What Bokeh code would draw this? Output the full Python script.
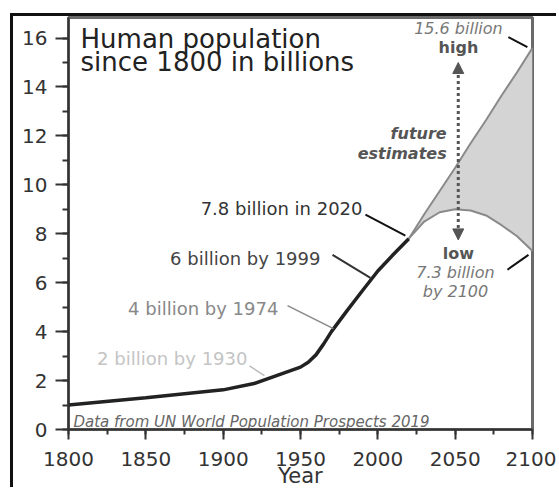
from bokeh.plotting import figure
from bokeh.models import Range1d, SingleIntervalTicker, Arrow, NormalHead
from bokeh.core.properties import value
from bokeh.embed import file_html
from bokeh.resources import INLINE

# ---- data ----
years_hist = [1800, 1850, 1900, 1920, 1950, 1955, 1960, 1965, 1970, 1980, 1990, 2000, 2010, 2020]
pop_hist = [1.0, 1.3, 1.62, 1.88, 2.55, 2.75, 3.05, 3.5, 4.0, 4.85, 5.67, 6.48, 7.15, 7.8]

years_future = [2020, 2030, 2040, 2050, 2060, 2070, 2080, 2090, 2100]
pop_high = [7.8, 8.8, 9.75, 10.7, 11.7, 12.65, 13.65, 14.6, 15.6]
pop_low = [7.8, 8.5, 8.88, 9.0, 8.95, 8.75, 8.35, 7.9, 7.3]

FONT = value("DejaVu Sans")

p = figure(width=546, height=474, output_backend="svg", toolbar_location=None,
           x_range=Range1d(1800, 2100), y_range=Range1d(0, 16.84),
           min_border_left=55, min_border_right=27, min_border_top=1, min_border_bottom=60)
p.styles = {"border-left": "3px solid #111", "border-top": "3px solid #111",
            "margin-left": "10px", "margin-top": "13px"}

p.xgrid.visible = False
p.ygrid.visible = False
p.outline_line_color = "#6a6a6a"
p.outline_line_width = 3
p.background_fill_color = "white"
p.border_fill_color = "white"

p.xaxis.ticker = SingleIntervalTicker(interval=50, num_minor_ticks=2)
p.yaxis.ticker = SingleIntervalTicker(interval=2, num_minor_ticks=2)
for ax in (p.xaxis, p.yaxis):
    ax.axis_line_color = "#333"
    ax.axis_line_width = 2
    ax.major_tick_line_color = "#333"
    ax.major_tick_line_width = 2
    ax.minor_tick_line_color = "#333"
    ax.minor_tick_line_width = 2
    ax.major_tick_in = 0
    ax.minor_tick_in = 0
    ax.major_label_text_font = "DejaVu Sans"
    ax.major_label_text_font_size = "20px"
    ax.major_label_text_color = "#333"
p.xaxis.major_tick_out = 10
p.xaxis.minor_tick_out = 5
p.yaxis.major_tick_out = 13
p.yaxis.minor_tick_out = 6
p.xaxis.major_label_standoff = 12
p.yaxis.major_label_standoff = 8
p.xaxis.axis_label = "Year"
p.xaxis.axis_label_text_font = "DejaVu Sans"
p.xaxis.axis_label_text_font_size = "21px"
p.xaxis.axis_label_text_font_style = "normal"
p.xaxis.axis_label_text_color = "#333"
p.xaxis.axis_label_standoff = -5

# future band
p.varea(x=years_future, y1=pop_low, y2=pop_high, fill_color="#d4d4d4")
p.line(years_future, pop_high, line_color="#8a8a8a", line_width=2)
p.line(years_future, pop_low, line_color="#8a8a8a", line_width=2)

# historic
p.line(years_hist, pop_hist, line_color="#222", line_width=3.5)

# arrow between high and low
head = dict(size=11, fill_color="#555", line_color="#555")
p.add_layout(Arrow(start=NormalHead(**head), end=NormalHead(**head),
                   x_start=2052, y_start=7.75, x_end=2052, y_end=15.0,
                   line_color="#555", line_width=3, line_dash="3 3"))

# leader lines
p.segment(x0=[2084.4, 1992, 2083.8], y0=[16.04, 8.78, 6.53],
          x1=[2096.7, 2017.8, 2097.4], y1=[15.63, 7.92, 7.14],
          line_color="#111", line_width=2)
p.segment(x0=[1970.7], y0=[7.14], x1=[1995.2], y1=[6.2], line_color="#333", line_width=2)
p.segment(x0=[1941.6], y0=[5.06], x1=[1971.3], y1=[4.12], line_color="#888", line_width=1.5)
p.segment(x0=[1917], y0=[2.6], x1=[1926.7], y1=[2.2], line_color="#bbb", line_width=1.5)

def txt(x, y, s, size, color, style="normal", align="left"):
    p.text(x=[x], y=[y], text=[s], text_font=FONT, text_font_size=size,
           text_font_style=style, text_color=color, text_align=align,
           text_baseline="alphabetic")

# title
txt(1807.8, 15.95, "Human population", "26px", "#222")
txt(1807.8, 15.01, "since 1800 in billions", "26px", "#222")

txt(2052.1, 16.38, "15.6 billion", "16px", "#777", "italic", "center")
txt(2052.1, 15.62, "high", "16px", "#555", "bold", "center")
txt(2044.5, 12.10, "future", "16px", "#555", "bold italic", "right")
txt(2044.5, 11.29, "estimates", "16px", "#555", "bold italic", "right")
txt(2052.1, 7.21, "low", "16px", "#555", "bold", "center")
txt(2050.2, 6.40, "7.3 billion", "16px", "#777", "italic", "center")
txt(2050.2, 5.66, "by 2100", "16px", "#777", "italic", "center")

txt(1990.1, 9.05, "7.8 billion in 2020", "18px", "#333", "normal", "right")
txt(1962.9, 6.99, "6 billion by 1999", "18px", "#444", "normal", "right")
txt(1935.7, 4.93, "4 billion by 1974", "18px", "#888", "normal", "right")
txt(1915.7, 2.89, "2 billion by 1930", "18px", "#c4c4c4", "normal", "right")

txt(1803.2, 0.31, "Data from UN World Population Prospects 2019", "15px", "#666", "italic", "left")

open("out.html", "w").write(file_html(p, INLINE))
